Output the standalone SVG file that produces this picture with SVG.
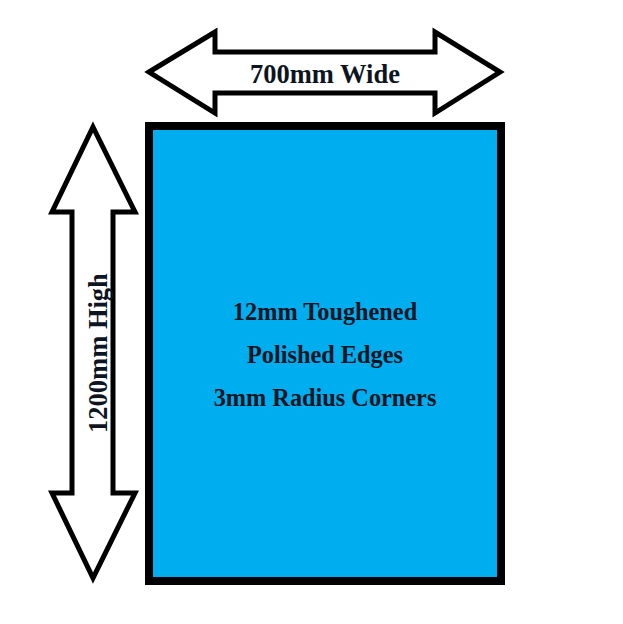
<svg xmlns="http://www.w3.org/2000/svg" width="623" height="624" viewBox="0 0 623 624">
<style>
.arrow{fill:#fff;stroke:#000;stroke-width:5;stroke-linejoin:miter}
.t{font-family:"Liberation Serif","Times New Roman",serif;font-weight:bold;fill:#0d1522;text-anchor:middle}
</style>
<rect width="623" height="624" fill="#fff"/>
<g id="panel">
<rect x="149" y="126" width="352" height="455" fill="#00adef" stroke="#000" stroke-width="8"/>
<text class="t" x="325" y="320" font-size="24.3">12mm Toughened</text>
<text class="t" x="325" y="363" font-size="24.3">Polished Edges</text>
<text class="t" x="325" y="406" font-size="24.3">3mm Radius Corners</text>
</g>
<g id="connectors">
<g id="width-arrow">
<polygon class="arrow" points="149,72 215,32 215,52 435,52 435,32 500,72 435,113 435,93 215,93 215,113"/>
<text class="t" x="325" y="83" font-size="26.5">700mm Wide</text>
</g>
<g id="height-arrow">
<polygon class="arrow" points="93,127 135,212 113,212 113,493 135,493 93,578 52,493 72,493 72,212 52,212"/>
<text class="t" font-size="26.5" transform="translate(107,353) rotate(-90)">1200mm High</text>
</g>
</g>
</svg>
